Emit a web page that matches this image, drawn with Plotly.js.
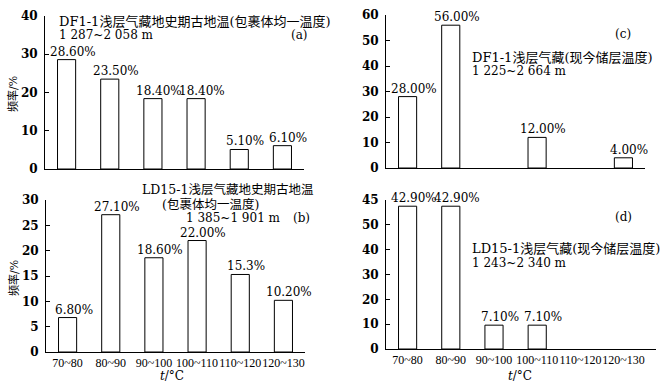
<!DOCTYPE html>
<html>
<head>
<meta charset="utf-8">
<script src="https://cdn.plot.ly/plotly-3.0.1.min.js"></script>
<style>
  html, body { margin: 0; padding: 0; background: #fff; }
</style>
</head>
<body>
<div id="chart" style="width:671px;height:390px;"></div>
<script>
// temperature classes, shared by all four panels
var cats = ['70~80', '80~90', '90~100', '100~110', '110~120', '120~130'];

// (a) DF1-1, palaeo temperature from inclusions
var aValues = [28.6, 23.5, 18.4, 18.4, 5.1, 6.1];
var aLabels = ['28.60%', '23.50%', '18.40%', '18.40%', '5.10%', '6.10%'];

// (b) LD15-1, palaeo temperature from inclusions
var bValues = [6.8, 27.1, 18.6, 22.0, 15.3, 10.2];
var bLabels = ['6.80%', '27.10%', '18.60%', '22.00%', '15.3%', '10.20%'];

// (c) DF1-1, present reservoir temperature
var cValues = [28, 56, null, 12, null, 4];
var cLabels = ['28.00%', '56.00%', '', '12.00%', '', '4.00%'];

// (d) LD15-1, present reservoir temperature
// bar heights as printed against the axis (the printed axis is off), labels as printed
var dValues = [57.5, 57.5, 9.6, 9.6, null, null];
var dLabels = ['42.90%', '42.90%', '7.10%', '7.10%', '', ''];
var dTickVals = [0, 10, 20, 30, 40, 50, 60];
var dTickText = ['0', '10', '20', '30', '40', '50', '45'];

var W = 671, H = 390;
var serif = 'DejaVu Serif, Noto Sans CJK SC, serif';
var times = 'Liberation Serif, serif';

function px(x) { return x / W; }
function py(y) { return 1 - y / H; }

function barTrace(n, values) {
    var s = n === 1 ? '' : String(n);
    return {
        type: 'bar',
        x: cats,
        y: values,
        xaxis: 'x' + s,
        yaxis: 'y' + s,
        width: 0.42,
        marker: { color: 'white', line: { color: 'black', width: 1 } },
        hoverinfo: 'none'
    };
}

function barLabels(n, values, labels) {
    var s = n === 1 ? '' : String(n);
    var out = [];
    for (var i = 0; i < cats.length; i++) {
        if (!labels[i]) continue;
        out.push({
            xref: 'x' + s, yref: 'y' + s,
            x: cats[i], y: values[i],
            text: labels[i],
            showarrow: false,
            yanchor: 'bottom',
            xshift: 6, yshift: -1,
            font: { family: serif, size: 12, color: 'black' }
        });
    }
    return out;
}

function note(text, x, y, anchor, size, angle) {
    return {
        xref: 'paper', yref: 'paper',
        x: px(x), y: py(y),
        text: text,
        showarrow: false,
        xanchor: anchor || 'left',
        yanchor: 'middle',
        textangle: angle || 0,
        font: { family: serif, size: size || 12, color: 'black' }
    };
}

function xAxis(dom, anchor, labels, range) {
    return {
        type: 'category',
        domain: [px(dom[0]), px(dom[1])],
        anchor: anchor,
        range: range || [-0.5, 5.5],
        showline: true, linecolor: 'black', linewidth: 1,
        ticks: '',
        showgrid: false, zeroline: false,
        showticklabels: labels,
        tickangle: 0,
        tickfont: { family: times, size: 12, color: 'black' },
        ticklabelstandoff: 0,
        fixedrange: true
    };
}

function yAxis(dom, anchor, top, step) {
    return {
        domain: [py(dom[1]), py(dom[0])],
        anchor: anchor,
        range: [0, top],
        dtick: step,
        tick0: 0,
        showline: true, linecolor: 'black', linewidth: 1,
        ticks: 'inside', ticklen: 4, tickcolor: 'black',
        showgrid: false, zeroline: false,
        tickfont: { family: serif, size: 12, color: 'black', weight: 'bold' },
        ticklabelstandoff: 4,
        fixedrange: true
    };
}

var data = [
    barTrace(1, aValues),
    barTrace(2, cValues),
    barTrace(3, bValues),
    barTrace(4, dValues)
];

var annotations = []
    .concat(barLabels(1, aValues, aLabels))
    .concat(barLabels(2, cValues, cLabels))
    .concat(barLabels(3, bValues, bLabels))
    .concat(barLabels(4, dValues, dLabels));

// panel captions
annotations.push(note('DF1-1浅层气藏地史期古地温(包裹体均一温度)', 57, 21, 'left', 13));
annotations.push(note('1 287~2 058 m', 57, 35));
annotations.push(note('(a)', 299, 35, 'center'));

annotations.push(note('LD15-1浅层气藏地史期古地温', 228, 189, 'center', 12.5));
annotations.push(note('(包裹体均一温度)', 210, 204, 'center', 12.5));
annotations.push(note('1 385~1 901 m', 184, 218));
annotations.push(note('(b)', 301, 218, 'center'));

annotations.push(note('(c)', 623, 34, 'center'));
annotations.push(note('DF1-1浅层气藏(现今储层温度)', 470, 57, 'left', 13));
annotations.push(note('1 225~2 664 m', 470, 71));

annotations.push(note('(d)', 623, 217, 'center'));
annotations.push(note('LD15-1浅层气藏(现今储层温度)', 470, 249, 'left', 13));
annotations.push(note('1 243~2 340 m', 470, 263));

// axis titles
annotations.push(note('频率/%', 13, 94, 'center', 11, -90));
annotations.push(note('频率/%', 14, 278, 'center', 11, -90));
annotations.push(note('<i>t</i>/°C', 172, 376, 'center', 12));
annotations.push(note('<i>t</i>/°C', 520, 376, 'center', 12));

var layout = {
    width: W, height: H,
    margin: { l: 0, r: 0, t: 0, b: 0 },
    paper_bgcolor: 'white',
    plot_bgcolor: 'white',
    showlegend: false,
    xaxis: xAxis([45, 304], 'y', false),
    yaxis: yAxis([16, 169], 'x', 40, 10),
    xaxis2: xAxis([386, 645], 'y2', false),
    yaxis2: yAxis([15, 168], 'x2', 60, 10),
    xaxis3: xAxis([46, 305], 'y3', true),
    yaxis3: yAxis([200, 352], 'x3', 30, 5),
    xaxis4: xAxis([386, 656], 'y4', true, [-0.5, 5.75]),
    yaxis4: yAxis([200, 349], 'x4', 60, 10),
    annotations: annotations
};
layout.yaxis4.tickmode = 'array';
layout.yaxis4.tickvals = dTickVals;
layout.yaxis4.ticktext = dTickText;

Plotly.newPlot('chart', data, layout, { displayModeBar: false, staticPlot: true });
</script>
</body>
</html>
